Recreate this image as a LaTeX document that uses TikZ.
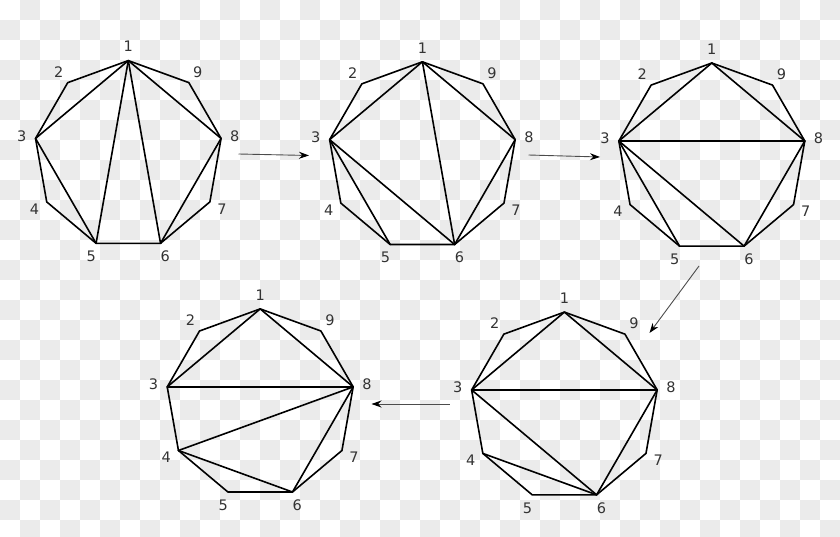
\documentclass[tikz,border=0pt]{standalone}
\usepackage{fontspec}
\setmainfont{DejaVu Sans}
\usetikzlibrary{arrows.meta,calc}
\tikzset{
  edge/.style={line width=1.6pt, line join=round, line cap=round},
  lbl/.style={font=\fontsize{14.5}{14.5}\selectfont, inner sep=0pt, text=black!80},
  flow/.style={line width=0.9pt, draw=black!70, -{Stealth[length=10pt,width=7pt,black]}},
  bgsq/.style={fill=black!8},
}
\newcommand\mynonagon[4]{% prefix, cx, cy, R
  \foreach \k in {1,...,9}{
    \pgfmathsetmacro\ang{90+40*(\k-1)}
    \pgfmathsetmacro\rr{#4+14}
    \coordinate (#1\k) at ($(#2,#3)+(\ang:#4pt)$);
    \node[lbl] (#1L\k) at ($(#2,#3)+(\ang:\rr pt)$) {\k};
  }
  \draw[edge] (#11) -- (#12) -- (#13) -- (#14) -- (#15) -- (#16) -- (#17) -- (#18) -- (#19) -- cycle;
}
\begin{document}
\begin{tikzpicture}[x=1pt,y=-1pt]
\useasboundingbox (0,0) rectangle (840,537);
\begin{scope}
  \clip (0,0) rectangle (840,537);
  \foreach \j in {0,...,26}{
    \foreach \i in {0,2,...,40}{
      \pgfmathsetmacro\xx{(\i+mod(\j+1,2))*20}
      \fill[bgsq] (\xx,\j*20) rectangle ++(20,20);
    }
  }
\end{scope}
% polygons
\mynonagon{A}{128.3}{154.8}{94.2}
\mynonagon{B}{422.4}{156.0}{94.2}
\mynonagon{C}{711.8}{157.4}{94.4}
\mynonagon{D}{260.2}{403.3}{94.4}
\mynonagon{E}{564.4}{406.3}{94.2}
\foreach \a/\b in {1/3,1/5,1/6,1/8,3/5,6/8} \draw[edge] (A\a) -- (A\b);
\foreach \a/\b in {1/3,1/6,1/8,3/5,3/6,6/8} \draw[edge] (B\a) -- (B\b);
\foreach \a/\b in {1/3,1/8,3/8,3/5,3/6,6/8} \draw[edge] (C\a) -- (C\b);
\foreach \a/\b in {1/3,1/8,3/8,4/8,4/6,6/8} \draw[edge] (D\a) -- (D\b);
\foreach \a/\b in {1/3,1/8,3/8,3/6,4/6,6/8} \draw[edge] (E\a) -- (E\b);
% arrows
\coordinate (s1) at (238.5,154);
\coordinate (t1) at (309,155.5);
\coordinate (s2) at (528.5,155);
\coordinate (t2) at (600,157);
\coordinate (s3) at (699,266);
\coordinate (t3) at (649.5,333);
\coordinate (s4) at (449.5,404);
\coordinate (t4) at (371.5,404);
\draw[flow] (s1) -- (t1);
\draw[flow] (s2) -- (t2);
\draw[flow] (s3) -- (t3);
\draw[flow] (s4) -- (t4);
\end{tikzpicture}
\end{document}
